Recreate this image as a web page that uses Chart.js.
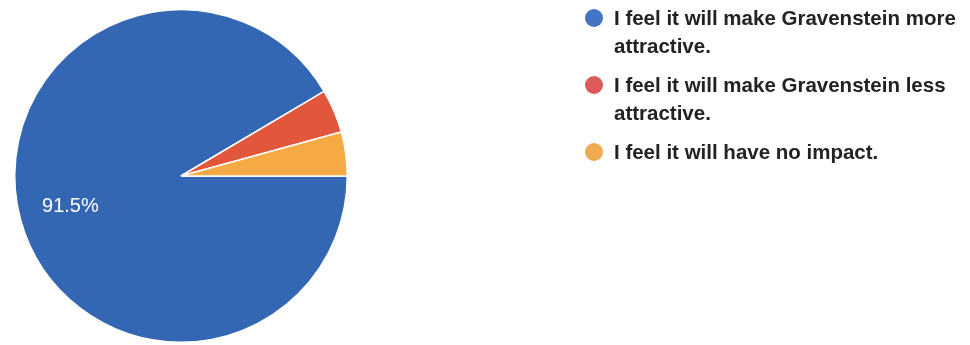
<!DOCTYPE html>
<html>
<head>
<meta charset="utf-8">
<script src="https://cdn.jsdelivr.net/npm/chart.js@4/dist/chart.umd.min.js"></script>
<style>
  html, body { margin: 0; padding: 0; background: #fff; }
  #wrap { position: relative; width: 970px; height: 345px; overflow: hidden; }
  #legend {
    position: absolute; left: 614px; top: 4px; width: 352px;
    margin: 0; padding: 0; list-style: none;
    font: bold 20.5px "Liberation Sans", Arial, sans-serif;
    color: #222; line-height: 28px;
  }
  #legend li { position: relative; margin-bottom: 11px; }
  #legend .dot {
    position: absolute; left: -29px; top: 5px;
    width: 18px; height: 18px; border-radius: 50%;
  }
</style>
</head>
<body>
<div id="wrap">
  <canvas id="pie-chart" width="970" height="345"></canvas>
  <ul id="legend"></ul>
</div>
<script>
// answers and response counts (43 / 2 / 2 of 47 -> 91.5%)
const answers = [
  'I feel it will make Gravenstein more attractive.',
  'I feel it will make Gravenstein less attractive.',
  'I feel it will have no impact.'
];
const counts = [43, 2, 2];
const sliceColors = ['#3467b3', '#e2573b', '#f5aa44'];
const dotColors = ['#4474c4', '#dc5a5a', '#eeaa4c'];

// white percentage text inside big slices
const pctLabels = {
  id: 'pctLabels',
  afterDatasetsDraw(chart) {
    const ctx = chart.ctx;
    const meta = chart.getDatasetMeta(0);
    const total = counts.reduce((a, b) => a + b, 0);
    ctx.save();
    ctx.fillStyle = '#fff';
    ctx.font = '20px "Liberation Sans", Arial, sans-serif';
    ctx.textAlign = 'center';
    ctx.textBaseline = 'middle';
    meta.data.forEach((arc, i) => {
      const pct = counts[i] / total * 100;
      if (pct < 10) return;
      const mid = (arc.startAngle + arc.endAngle) / 2;
      const r = arc.outerRadius * 0.69;
      ctx.fillText(pct.toFixed(1) + '%', arc.x + Math.cos(mid) * r, arc.y + Math.sin(mid) * r);
    });
    ctx.restore();
  }
};

const chart = new Chart(document.getElementById('pie-chart'), {
  type: 'pie',
  data: {
    labels: answers,
    datasets: [{
      data: counts,
      backgroundColor: sliceColors,
      borderColor: '#fff',
      borderWidth: 1.5,
      hoverOffset: 0
    }]
  },
  options: {
    responsive: false,
    animation: false,
    rotation: 90,
    layout: { padding: { left: 14, top: 9, right: 622, bottom: 2 } },
    plugins: {
      legend: { display: false },
      tooltip: { enabled: false }
    }
  },
  plugins: [pctLabels]
});

// html legend so the long answers can wrap
const legendEl = document.getElementById('legend');
chart.data.labels.forEach((label, i) => {
  const li = document.createElement('li');
  const dot = document.createElement('span');
  dot.className = 'dot';
  dot.style.background = dotColors[i];
  li.appendChild(dot);
  li.appendChild(document.createTextNode(label));
  legendEl.appendChild(li);
});
</script>
</body>
</html>
